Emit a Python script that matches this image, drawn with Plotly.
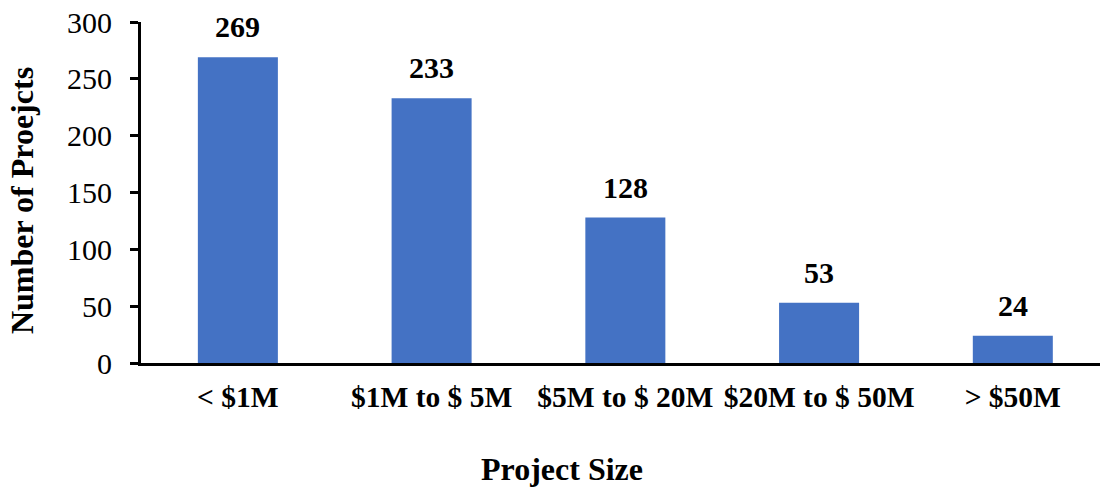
import plotly.graph_objects as go

categories = ["< $1M", "$1M to $ 5M", "$5M to $ 20M", "$20M to $ 50M", "> $50M"]
values = [269, 233, 128, 53, 24]
x_title = "Project Size"
y_title = "Number of Proejcts"

fig = go.Figure(go.Bar(
    x=categories, y=values,
    marker=dict(color="#4472C4", line=dict(width=0)),
    width=0.413,
    cliponaxis=False,
    hoverinfo="skip",
))

for c, v in zip(categories, values):
    fig.add_annotation(
        x=c, y=v, text=f"<b>{v}</b>", showarrow=False,
        yanchor="bottom", yshift=12,
        font=dict(family="Liberation Serif", size=30, color="black"),
    )

fig.add_annotation(
    xref="paper", yref="paper", x=0.439, y=-0.311,
    xanchor="center", yanchor="middle", showarrow=False,
    text=f"<b>{x_title}</b>",
    font=dict(family="Liberation Serif", size=32, color="black"),
)
fig.add_annotation(
    xref="paper", yref="paper", x=-0.124, y=0.475,
    xanchor="center", yanchor="middle", showarrow=False, textangle=-90,
    text=f"<b>{y_title}</b>",
    font=dict(family="Liberation Serif", size=32, color="black"),
)

fig.update_layout(
    width=1102, height=487,
    margin=dict(l=141, r=2, t=22, b=124),
    plot_bgcolor="white", paper_bgcolor="white",
    showlegend=False,
    font=dict(family="Liberation Serif", color="black"),
    xaxis=dict(
        range=[-0.5, 4.45],
        showline=True, linecolor="black", linewidth=3,
        ticks="", showgrid=False,
        tickfont=dict(size=29.5, weight="bold"),
        ticklabelstandoff=6,
        ticklabeloverflow="allow",
        automargin=False,
    ),
    yaxis=dict(
        range=[0, 300], dtick=50,
        showline=True, linecolor="black", linewidth=3,
        ticks="outside", ticklen=8, tickwidth=3, tickcolor="black",
        showgrid=False, zeroline=False,
        tickfont=dict(size=30),
        ticklabelstandoff=12,
        ticklabeloverflow="allow",
        automargin=False,
    ),
)

fig.write_html(
    "out.html",
    config={"displayModeBar": False},
    post_script="document.body.style.margin='0';document.body.style.overflow='hidden';",
)
